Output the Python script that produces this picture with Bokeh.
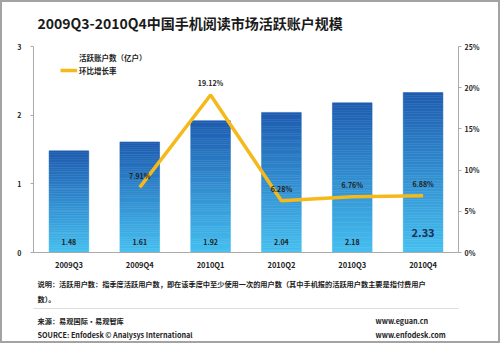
from bokeh.plotting import figure
from bokeh.layouts import column
from bokeh.models import (Range1d, LinearAxis, Legend, LegendItem,
                          ColumnDataSource, FixedTicker, PrintfTickFormatter)
from bokeh.embed import file_html
from bokeh.resources import INLINE
from bokeh.core.properties import value

# ---- data ----
quarters = ["2009Q3", "2009Q4", "2010Q1", "2010Q2", "2010Q3", "2010Q4"]
accounts = [1.48, 1.61, 1.92, 2.04, 2.18, 2.33]
account_labels = ["1.48", "1.61", "1.92", "2.04", "2.18", "2.33"]
growth_quarters = ["2009Q4", "2010Q1", "2010Q2", "2010Q3", "2010Q4"]
growth = [7.91, 19.12, 6.28, 6.76, 6.88]
growth_labels = ["7.91%", "19.12%", "6.28%", "6.76%", "6.88%"]
left_ticks = [0, 1, 2, 3]
right_ticks = [0, 5, 10, 15, 20, 25]

title_text = "2009Q3-2010Q4中国手机阅读市场活跃账户规模"
legend_bar = "活跃账户数（亿户）"
legend_line = "环比增长率"
note1 = "说明：活跃用户数：指季度活跃用户数，即在该季度中至少使用一次的用户数（其中手机报的活跃用户数主要是指付费用户"
note2 = "数）。"
src1 = "来源：易观国际·易观智库"
src2 = "SOURCE: Enfodesk © Analysys International"
web1 = "www.eguan.cn"
web2 = "www.enfodesk.com"

FONT = "Noto Sans CJK SC"
BW = 2                 # outer border width
CW = 500 - 2 * BW      # content width
HEAD_B = 38            # canvas y where header ends
MAIN_B = 275           # canvas y where main chart ends
FOOT_B = 343 - BW
FL, FR, FB = 33, 458, 252   # main frame left/right/bottom in canvas pixels

def text_panel(y0, y1):
    # frames in a column are aligned with the main chart's frame (FL..FR)
    f = figure(width=CW, height=y1 - y0, x_range=Range1d(FL, FR), y_range=Range1d(y1, y0),
               x_axis_location=None, y_axis_location=None, output_backend="svg",
               toolbar_location=None, min_border=0,
               min_border_left=FL - BW, min_border_right=BW + CW - FR)
    f.grid.visible = False
    f.outline_line_color = None
    f.background_fill_color = "white"
    f.border_fill_color = "white"
    return f

def put(f, x, y, txt, size, color="#222222"):
    f.text(x=[x], y=[y], text=[txt], text_font=value(FONT), text_font_size=size,
           text_font_style="bold", text_color=color, text_align="left", text_baseline="middle")

# ---- header ----
head = text_panel(BW, HEAD_B)
put(head, 37, 22, title_text, "14px", "#1a1a1a")

# ---- main chart ----
p = figure(x_range=quarters, y_range=Range1d(0, 3), width=CW, height=MAIN_B - HEAD_B,
           output_backend="svg", toolbar_location=None,
           min_border_left=FL - BW, min_border_right=BW + CW - FR,
           min_border_top=46 - HEAD_B, min_border_bottom=MAIN_B - FB)
p.extra_y_ranges = {"pct": Range1d(0, 25)}
p.background_fill_color = "white"
p.border_fill_color = "white"
p.outline_line_color = None
p.xgrid.grid_line_color = None
p.ygrid.grid_line_color = None

# gradient bars built from slices of each bar's own value
N = 60
top_rgb = (30, 92, 176)
bot_rgb = (70, 192, 240)
xs, bs, ts, cs = [], [], [], []
for q, v in zip(quarters, accounts):
    for i in range(N):
        fr = (i + 0.5) / N
        c = tuple(int(bot_rgb[k] + (top_rgb[k] - bot_rgb[k]) * fr) for k in range(3))
        xs.append(q)
        bs.append(v * i / N)
        ts.append(v * (i + 1) / N)
        cs.append("#%02x%02x%02x" % c)
src = ColumnDataSource(dict(x=xs, b=bs, t=ts, c=cs))
p.vbar(x="x", bottom="b", top="t", width=0.56, fill_color="c", line_color="c", line_width=0.5, source=src)

line = p.line(growth_quarters, growth, y_range_name="pct", line_color="#F5B91A", line_width=3.5)
legend_dummy = p.line(x=[], y=[], line_color="#2E8CD6", line_width=3.5)

p.text(x=quarters[:-1], y=[0.15] * 5, text=account_labels[:-1], text_font=value(FONT),
       text_font_size="7px", text_font_style="bold", text_color="#222222",
       text_align="center", text_baseline="middle")
p.text(x=[quarters[-1]], y=[0.29], text=[account_labels[-1]], text_font=value(FONT),
       text_font_size="11px", text_font_style="bold", text_color="#1a2f5a",
       text_align="center", text_baseline="middle")
p.text(x=growth_quarters, y=[g + 1.4 for g in growth], text=growth_labels, y_range_name="pct",
       text_font=value(FONT), text_font_size="7px", text_font_style="bold", text_color="#222222",
       text_align="center", text_baseline="middle")

lab_style = dict(major_label_text_font=FONT, major_label_text_font_size="7px",
                 major_label_text_font_style="bold", major_label_text_color="#222222")
p.yaxis.ticker = FixedTicker(ticks=left_ticks)
p.yaxis.axis_line_color = "#aaaaaa"
p.yaxis.major_tick_line_color = "#aaaaaa"
p.yaxis.major_tick_out = 3
p.yaxis.major_tick_in = 0
p.yaxis.minor_tick_line_color = None
p.yaxis.major_label_standoff = 9
for k, v in lab_style.items():
    setattr(p.yaxis, k, v)

ax_r = LinearAxis(y_range_name="pct", ticker=FixedTicker(ticks=right_ticks),
                  formatter=PrintfTickFormatter(format="%d%%"))
ax_r.axis_line_color = "#aaaaaa"
ax_r.major_tick_line_color = "#aaaaaa"
ax_r.major_tick_out = 3
ax_r.major_tick_in = 0
ax_r.minor_tick_line_color = None
ax_r.major_label_standoff = 3
for k, v in lab_style.items():
    setattr(ax_r, k, v)
p.add_layout(ax_r, "right")

p.xaxis.axis_line_color = "#aaaaaa"
p.xaxis.major_tick_line_color = None
p.xaxis.major_tick_out = 0
p.xaxis.major_tick_in = 0
p.xaxis.minor_tick_line_color = None
p.xaxis.major_label_standoff = 6
for k, v in lab_style.items():
    setattr(p.xaxis, k, v)
p.xaxis.major_label_text_font_size = "7.5px"

legend = Legend(items=[LegendItem(label=legend_bar, renderers=[legend_dummy]),
                       LegendItem(label=legend_line, renderers=[line])],
                location=(27, 176), background_fill_alpha=0, border_line_color=None,
                label_text_font=FONT, label_text_font_size="7.5px", label_text_font_style="bold",
                label_text_color="#222222", glyph_width=17, glyph_height=12, label_height=12,
                spacing=1, padding=2, margin=0, label_standoff=2)
p.add_layout(legend, "center")

# ---- footer ----
foot = text_panel(MAIN_B, FOOT_B)
put(foot, 37, 283, note1, "7.2px")
put(foot, 37, 298, note2, "7.2px")
foot.line(x=[FL, FR], y=[308, 308], line_color="#bbbbbb", line_dash="1 1", line_width=1)
put(foot, 37, 320, src1, "7.2px")
put(foot, 37, 334, src2, "7.2px")
put(foot, 375, 320, web1, "7.2px")
put(foot, 375, 334, web2, "7.2px")

layout = column(head, p, foot, spacing=0,
                styles={"border": "%dpx solid #a3a3a3" % BW, "background-color": "white"})

open("out.html", "w").write(file_html(layout, INLINE))
